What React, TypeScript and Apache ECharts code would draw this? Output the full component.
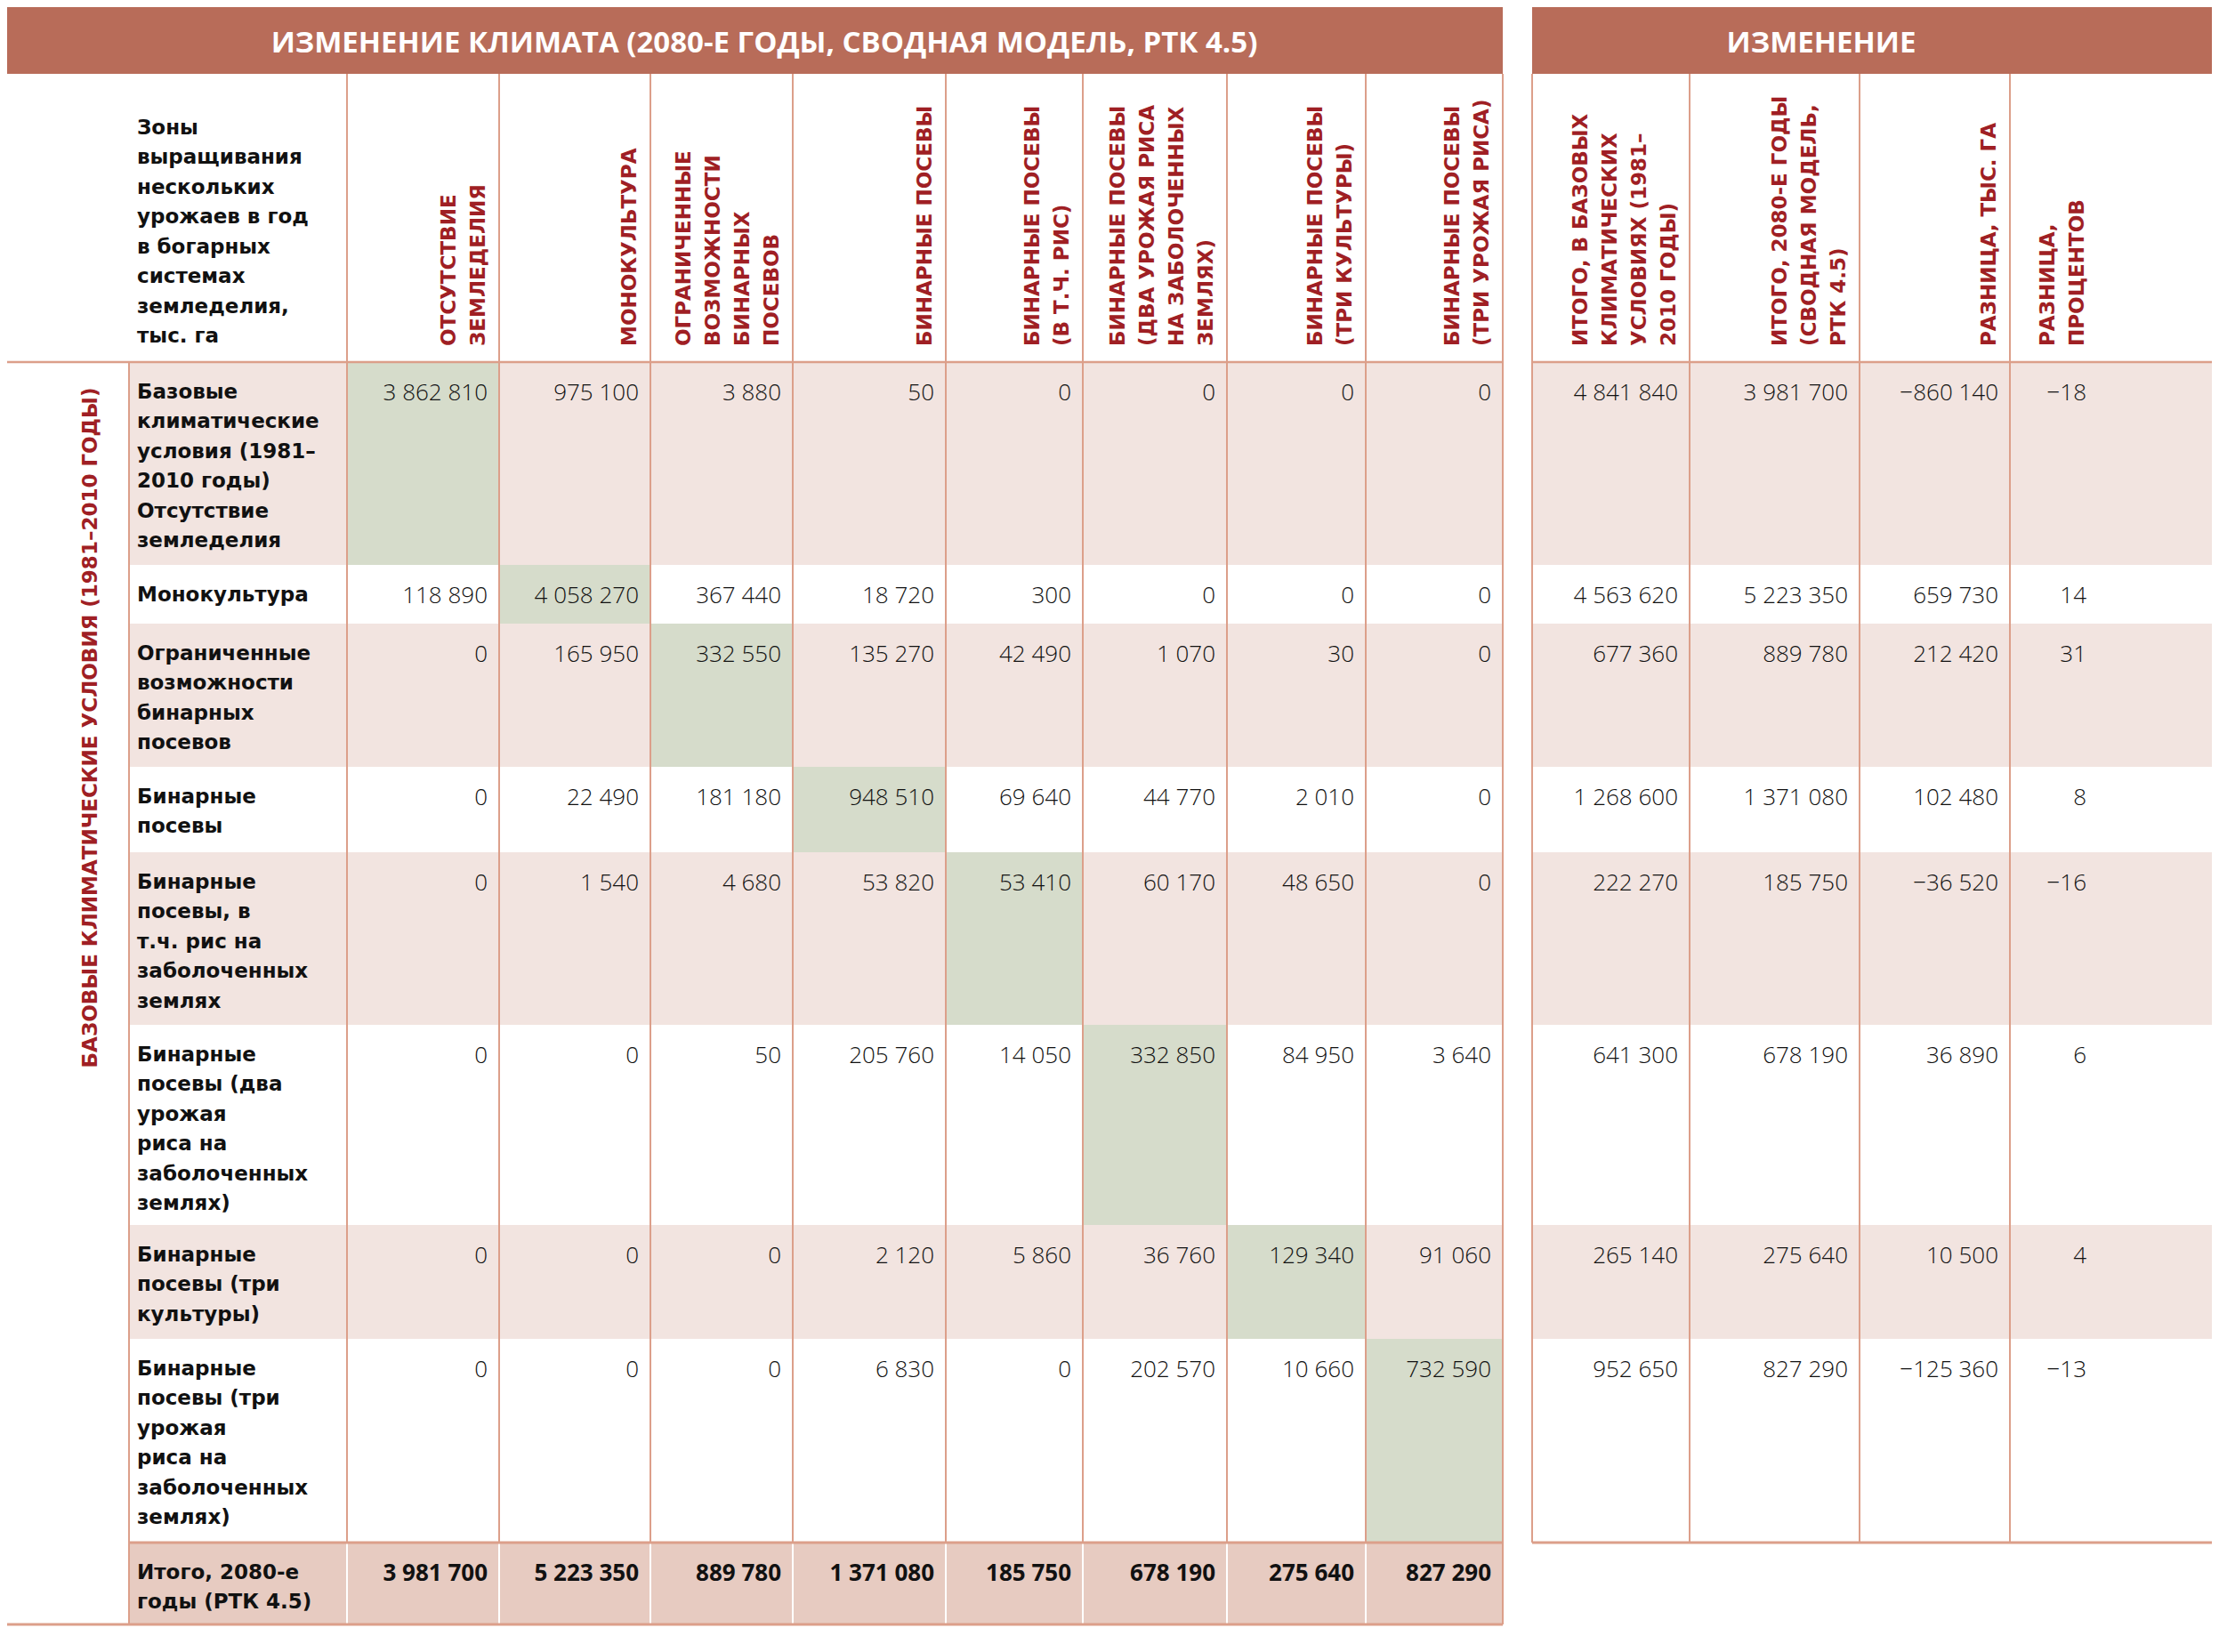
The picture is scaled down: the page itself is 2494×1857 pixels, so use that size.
import React, { useEffect, useRef } from "react";
import * as echarts from "echarts";

// ---------- DATA ----------
const titleLeft = "ИЗМЕНЕНИЕ КЛИМАТА (2080-Е ГОДЫ, СВОДНАЯ МОДЕЛЬ, РТК 4.5)";
const titleRight = "ИЗМЕНЕНИЕ";
const cornerLabel =
  "Зоны\nвыращивания\nнескольких\nурожаев в год\nв богарных\nсистемах\nземледелия,\nтыс. га";
const sideLabel = "БАЗОВЫЕ КЛИМАТИЧЕСКИЕ УСЛОВИЯ (1981–2010 ГОДЫ)";

const columnLabels = [
  "ОТСУТСТВИЕ\nЗЕМЛЕДЕЛИЯ",
  "МОНОКУЛЬТУРА",
  "ОГРАНИЧЕННЫЕ\nВОЗМОЖНОСТИ\nБИНАРНЫХ\nПОСЕВОВ",
  "БИНАРНЫЕ ПОСЕВЫ",
  "БИНАРНЫЕ ПОСЕВЫ\n(В Т.Ч. РИС)",
  "БИНАРНЫЕ ПОСЕВЫ\n(ДВА УРОЖАЯ РИСА\nНА ЗАБОЛОЧЕННЫХ\nЗЕМЛЯХ)",
  "БИНАРНЫЕ ПОСЕВЫ\n(ТРИ КУЛЬТУРЫ)",
  "БИНАРНЫЕ ПОСЕВЫ\n(ТРИ УРОЖАЯ РИСА)",
];

const rowLabels = [
  "Базовые\nклиматические\nусловия (1981–\n2010 годы)\nОтсутствие\nземледелия",
  "Монокультура",
  "Ограниченные\nвозможности\nбинарных\nпосевов",
  "Бинарные\nпосевы",
  "Бинарные\nпосевы, в\nт.ч. рис на\nзаболоченных\nземлях",
  "Бинарные\nпосевы (два\nурожая\nриса на\nзаболоченных\nземлях)",
  "Бинарные\nпосевы (три\nкультуры)",
  "Бинарные\nпосевы (три\nурожая\nриса на\nзаболоченных\nземлях)",
];
const totalLabel = "Итого, 2080-е\nгоды (РТК 4.5)";

const matrix = [
  [3862810, 975100, 3880, 50, 0, 0, 0, 0],
  [118890, 4058270, 367440, 18720, 300, 0, 0, 0],
  [0, 165950, 332550, 135270, 42490, 1070, 30, 0],
  [0, 22490, 181180, 948510, 69640, 44770, 2010, 0],
  [0, 1540, 4680, 53820, 53410, 60170, 48650, 0],
  [0, 0, 50, 205760, 14050, 332850, 84950, 3640],
  [0, 0, 0, 2120, 5860, 36760, 129340, 91060],
  [0, 0, 0, 6830, 0, 202570, 10660, 732590],
];
const totals2080 = [3981700, 5223350, 889780, 1371080, 185750, 678190, 275640, 827290];

const summaryLabels = [
  "ИТОГО, В БАЗОВЫХ\nКЛИМАТИЧЕСКИХ\nУСЛОВИЯХ (1981–\n2010 ГОДЫ)",
  "ИТОГО, 2080-Е ГОДЫ\n(СВОДНАЯ МОДЕЛЬ,\nРТК 4.5)",
  "РАЗНИЦА, ТЫС. ГА",
  "РАЗНИЦА,\nПРОЦЕНТОВ",
];
const baseTotals = [4841840, 4563620, 677360, 1268600, 222270, 641300, 265140, 952650];
const futureTotals = [3981700, 5223350, 889780, 1371080, 185750, 678190, 275640, 827290];
const diffThousandHa = [-860140, 659730, 212420, 102480, -36520, 36890, 10500, -125360];
const diffPercent = [-18, 14, 31, 8, -16, 6, 4, -13];

// ---------- LAYOUT ----------
const W = 2494;
const H = 1857;
const BAND_Y = [8, 83];
const LEFT_BAND_X = [8, 1689];
const RIGHT_BAND_X = [1722, 2486];
const LABEL_X = 145;
const LEFT_COL_EDGES = [390, 561, 731, 891, 1063, 1217, 1379, 1535, 1689];
const RIGHT_COL_EDGES = [1722, 1899, 2090, 2259, 2486];
const RIGHT_TEXT_EDGES = [1899, 2090, 2259, 2358];
const ROW_EDGES = [407, 635, 701, 862, 958, 1152, 1377, 1505, 1734, 1826];
const HEADER_BASE_Y = 389;

// ---------- STYLE ----------
const C_BAND = "#b86c59";
const C_LINE = "#dc9f8a";
const C_PINK = "#f2e4e0";
const C_GREEN = "#d6dccb";
const C_TOTAL = "#e7cbc1";
const C_RED = "#9f1f24";
const C_TEXT = "#111111";
const NUM_FONT = "'Open Sans', 'Lato', sans-serif";
const LABEL_FONT = "'DejaVu Sans', sans-serif";
const TITLE_FONT = "'Open Sans', sans-serif";

function fmt(v: number): string {
  const s = Math.abs(v)
    .toString()
    .replace(/\B(?=(\d{3})+(?!\d))/g, " ");
  return (v < 0 ? "−" : "") + s;
}

function rowFill(r: number) {
  return r % 2 === 0 ? C_PINK : "#ffffff";
}

export default function App() {
  const ref = useRef<HTMLDivElement>(null);

  useEffect(() => {
    document.body.style.margin = "0";
    if (!ref.current) return;
    const chart = echarts.init(ref.current, undefined, { renderer: "svg" });

    const bodyData: number[][] = [];
    matrix.forEach((row, r) => row.forEach((v, c) => bodyData.push([c, r, v])));
    const totalData = totals2080.map((v, c) => [c, 8, v]);
    const rowLabelData = rowLabels.map((_, r) => [0, r]).concat([[0, 8]]);
    const summaryCols = [baseTotals, futureTotals, diffThousandHa, diffPercent];
    const summaryData: number[][] = [];
    summaryCols.forEach((col, c) => col.forEach((v, r) => summaryData.push([c, r, v])));

    const numStyle = (text: string, bold: boolean) => ({
      text,
      fill: C_TEXT,
      fontFamily: NUM_FONT,
      fontWeight: bold ? "bold" : 300,
      fontSize: 26,
      align: "right",
      verticalAlign: "middle",
    });

    const option: any = {
      animation: false,
      grid: { left: 0, right: 0, top: 0, bottom: 0 },
      xAxis: { type: "value", min: 0, max: W, show: false },
      yAxis: { type: "value", min: 0, max: H, inverse: true, show: false },
      series: [
        // title bands
        {
          type: "custom",
          silent: true,
          z: 1,
          data: [[0, 0], [1, 0]],
          renderItem: (_p: any, api: any) => {
            const i = api.value(0);
            const xs = i === 0 ? LEFT_BAND_X : RIGHT_BAND_X;
            const a = api.coord([xs[0], BAND_Y[0]]);
            const b = api.coord([xs[1], BAND_Y[1]]);
            const cx = i === 0 ? api.coord([859, 0])[0] : api.coord([2047, 0])[0];
            return {
              type: "group",
              children: [
                { type: "rect", shape: { x: a[0], y: a[1], width: b[0] - a[0], height: b[1] - a[1] }, style: { fill: C_BAND } },
                {
                  type: "text",
                  x: cx,
                  y: (a[1] + b[1]) / 2 + 1,
                  style: {
                    text: i === 0 ? titleLeft : titleRight,
                    fill: "#ffffff",
                    fontFamily: TITLE_FONT,
                    fontWeight: "bold",
                    fontSize: 33,
                    align: "center",
                    verticalAlign: "middle",
                  },
                },
              ],
            };
          },
        },
        // row label cells
        {
          type: "custom",
          silent: true,
          z: 1,
          data: rowLabelData,
          renderItem: (_p: any, api: any) => {
            const r = api.value(1);
            const a = api.coord([LABEL_X, ROW_EDGES[r]]);
            const b = api.coord([LEFT_COL_EDGES[0], ROW_EDGES[r + 1]]);
            const isTotal = r === 8;
            return {
              type: "group",
              children: [
                { type: "rect", shape: { x: a[0], y: a[1], width: b[0] - a[0], height: b[1] - a[1] }, style: { fill: isTotal ? C_TOTAL : rowFill(r) } },
                {
                  type: "text",
                  x: a[0] + 9,
                  y: a[1] + 16,
                  style: {
                    text: isTotal ? totalLabel : rowLabels[r],
                    fill: C_TEXT,
                    fontFamily: LABEL_FONT,
                    fontWeight: "bold",
                    fontSize: 23,
                    lineHeight: 33.5,
                    align: "left",
                    verticalAlign: "top",
                  },
                },
              ],
            };
          },
        },
        // body cells
        {
          type: "custom",
          silent: true,
          z: 1,
          data: bodyData,
          renderItem: (_p: any, api: any) => {
            const c = api.value(0);
            const r = api.value(1);
            const v = api.value(2);
            const a = api.coord([LEFT_COL_EDGES[c], ROW_EDGES[r]]);
            const b = api.coord([LEFT_COL_EDGES[c + 1], ROW_EDGES[r + 1]]);
            const fill = c === r ? C_GREEN : rowFill(r);
            return {
              type: "group",
              children: [
                { type: "rect", shape: { x: a[0], y: a[1], width: b[0] - a[0], height: b[1] - a[1] }, style: { fill } },
                { type: "text", x: b[0] - 13, y: a[1] + 33, style: numStyle(fmt(v), false) },
              ],
            };
          },
        },
        // totals row
        {
          type: "custom",
          silent: true,
          z: 1,
          data: totalData,
          renderItem: (_p: any, api: any) => {
            const c = api.value(0);
            const r = api.value(1);
            const v = api.value(2);
            const a = api.coord([LEFT_COL_EDGES[c], ROW_EDGES[r]]);
            const b = api.coord([LEFT_COL_EDGES[c + 1], ROW_EDGES[r + 1]]);
            return {
              type: "group",
              children: [
                { type: "rect", shape: { x: a[0], y: a[1], width: b[0] - a[0], height: b[1] - a[1] }, style: { fill: C_TOTAL } },
                { type: "text", x: b[0] - 13, y: a[1] + 33, style: numStyle(fmt(v), true) },
              ],
            };
          },
        },
        // summary (right panel) cells
        {
          type: "custom",
          silent: true,
          z: 1,
          data: summaryData,
          renderItem: (_p: any, api: any) => {
            const c = api.value(0);
            const r = api.value(1);
            const v = api.value(2);
            const a = api.coord([RIGHT_COL_EDGES[c], ROW_EDGES[r]]);
            const b = api.coord([RIGHT_COL_EDGES[c + 1], ROW_EDGES[r + 1]]);
            const tx = api.coord([RIGHT_TEXT_EDGES[c], 0])[0];
            return {
              type: "group",
              children: [
                { type: "rect", shape: { x: a[0], y: a[1], width: b[0] - a[0], height: b[1] - a[1] }, style: { fill: rowFill(r) } },
                { type: "text", x: tx - 13, y: a[1] + 33, style: numStyle(fmt(v), false) },
              ],
            };
          },
        },
        // column headers (rotated)
        {
          type: "custom",
          silent: true,
          z: 2,
          data: columnLabels.map((_, c) => [c, 0]).concat(summaryLabels.map((_, c) => [c + 100, 0])),
          renderItem: (_p: any, api: any) => {
            const k = api.value(0);
            const isRight = k >= 100;
            const c = isRight ? k - 100 : k;
            const edge = isRight ? RIGHT_TEXT_EDGES[c] : LEFT_COL_EDGES[c + 1];
            const p = api.coord([edge - 8, HEADER_BASE_Y]);
            return {
              type: "text",
              x: p[0],
              y: p[1],
              rotation: Math.PI / 2,
              style: {
                text: isRight ? summaryLabels[c] : columnLabels[c],
                fill: C_RED,
                fontFamily: LABEL_FONT,
                fontWeight: "bold",
                fontSize: 23,
                lineHeight: 33,
                align: "left",
                verticalAlign: "bottom",
              },
            };
          },
        },
        // corner + side labels
        {
          type: "custom",
          silent: true,
          z: 2,
          data: [[0, 0]],
          renderItem: (_p: any, api: any) => {
            const corner = api.coord([154, 126]);
            const side = api.coord([101, 818]);
            return {
              type: "group",
              children: [
                {
                  type: "text",
                  x: corner[0],
                  y: corner[1],
                  style: {
                    text: cornerLabel,
                    fill: C_TEXT,
                    fontFamily: LABEL_FONT,
                    fontWeight: "bold",
                    fontSize: 23,
                    lineHeight: 33.5,
                    align: "left",
                    verticalAlign: "top",
                  },
                },
                {
                  type: "text",
                  x: side[0],
                  y: side[1],
                  rotation: Math.PI / 2,
                  style: {
                    text: sideLabel,
                    fill: C_RED,
                    fontFamily: LABEL_FONT,
                    fontWeight: "bold",
                    fontSize: 23,
                    align: "center",
                    verticalAlign: "middle",
                  },
                },
              ],
            };
          },
        },
        // rules
        {
          type: "custom",
          silent: true,
          z: 3,
          data: [[0, 0]],
          renderItem: (_p: any, api: any) => {
            const out: any[] = [];
            const L = (x1: number, y1: number, x2: number, y2: number, stroke: string, w: number) => {
              const a = api.coord([x1, y1]);
              const b = api.coord([x2, y2]);
              out.push({ type: "line", shape: { x1: a[0], y1: a[1], x2: b[0], y2: b[1] }, style: { stroke, lineWidth: w } });
            };
            const top = ROW_EDGES[0];
            const totTop = ROW_EDGES[8];
            const bottom = ROW_EDGES[9];
            L(LABEL_X, top, LABEL_X, bottom, C_LINE, 2);
            LEFT_COL_EDGES.forEach((x, i) => {
              if (i === LEFT_COL_EDGES.length - 1) {
                L(x, BAND_Y[1], x, bottom, C_LINE, 2);
              } else {
                L(x, BAND_Y[1], x, totTop, C_LINE, 2);
                L(x, totTop, x, bottom, "#ffffff", 2);
              }
            });
            RIGHT_COL_EDGES.slice(0, 4).forEach((x) => L(x, BAND_Y[1], x, totTop, C_LINE, 2));
            L(LEFT_BAND_X[0], top, LEFT_BAND_X[1], top, C_LINE, 2.5);
            L(RIGHT_BAND_X[0], top, RIGHT_BAND_X[1], top, C_LINE, 2.5);
            L(LABEL_X, totTop, LEFT_BAND_X[1], totTop, C_LINE, 3);
            L(LEFT_BAND_X[0], bottom, LEFT_BAND_X[1], bottom, C_LINE, 3);
            L(RIGHT_BAND_X[0], totTop, RIGHT_BAND_X[1], totTop, C_LINE, 3);
            return { type: "group", children: out };
          },
        },
      ],
    };

    chart.setOption(option);
    return () => chart.dispose();
  }, []);

  return <div ref={ref} style={{ width: W, height: H }} />;
}
